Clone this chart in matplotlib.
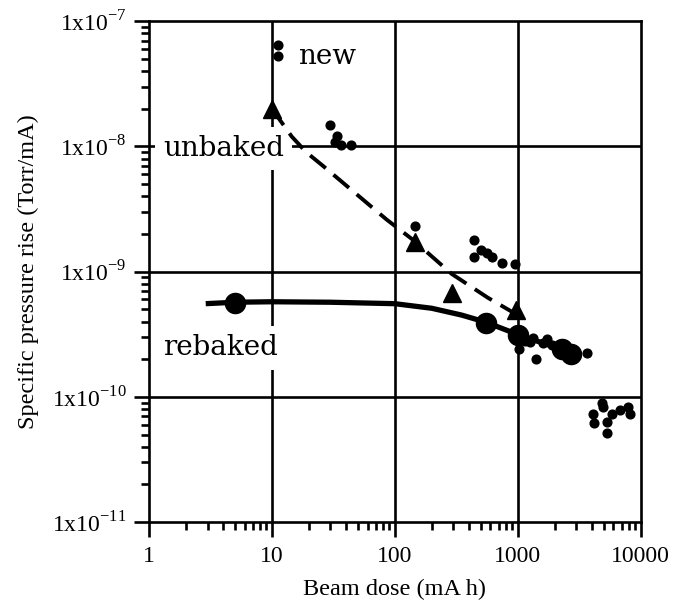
import matplotlib
matplotlib.use("Agg")
import matplotlib.pyplot as plt
from matplotlib.ticker import FixedLocator, FixedFormatter, LogLocator, NullFormatter

# ---- data ----
x_ticks = [1, 10, 100, 1000, 10000]
x_tick_labels = ["1", "10", "100", "1000", "10000"]
y_ticks = [1e-11, 1e-10, 1e-9, 1e-8, 1e-7]
y_tick_labels = [r"1x10$^{\mathregular{-11}}$", r"1x10$^{\mathregular{-10}}$",
                 r"1x10$^{\mathregular{-9}}$", r"1x10$^{\mathregular{-8}}$",
                 r"1x10$^{\mathregular{-7}}$"]

# small dots
dots_x = [11.2, 11.2, 29.6, 33.6, 32.5, 36.8, 44.4, 147,
          440, 440, 500, 560, 620, 740, 950,
          1030, 1150, 1250, 1320, 1400, 1600, 1720, 1900, 2190, 2400, 2650, 3000, 3640,
          4090, 4200, 4820, 4900, 5300, 5300, 5800, 6800, 7900, 8200]
dots_y = [6.4e-8, 5.3e-8, 1.47e-8, 1.22e-8, 1.08e-8, 1.02e-8, 1.02e-8, 2.33e-9,
          1.8e-9, 1.31e-9, 1.5e-9, 1.4e-9, 1.3e-9, 1.17e-9, 1.16e-9,
          2.4e-10, 2.8e-10, 2.75e-10, 2.96e-10, 2.0e-10, 2.7e-10, 2.9e-10, 2.6e-10, 2.58e-10, 2.4e-10, 2.33e-10, 2.2e-10, 2.26e-10,
          7.3e-11, 6.2e-11, 8.9e-11, 8.3e-11, 6.3e-11, 5.15e-11, 7.3e-11, 7.8e-11, 8.3e-11, 7.3e-11]

# unbaked (triangles) and dashed trend
tri_x = [10, 145, 290, 960]
tri_y = [2.0e-8, 1.71e-9, 6.8e-10, 4.9e-10]
dash_x = [10, 14.5, 19, 26, 40, 86, 140, 290, 570, 960]
dash_y = [2.0e-8, 1.2e-8, 9.0e-9, 7.0e-9, 4.9e-9, 2.6e-9, 1.8e-9, 9.6e-10, 6.2e-10, 4.6e-10]

# rebaked (big circles) and solid trend
reb_x = [5, 550, 1000, 2300, 2700]
reb_y = [5.6e-10, 3.9e-10, 3.1e-10, 2.4e-10, 2.2e-10]
solid_x = [2.9, 5, 10, 30, 100, 200, 350, 550, 1000, 1500, 2000, 2700]
solid_y = [5.55e-10, 5.7e-10, 5.75e-10, 5.7e-10, 5.55e-10, 5.1e-10, 4.5e-10, 3.95e-10, 3.15e-10, 2.75e-10, 2.5e-10, 2.2e-10]

labels_text = ["new", "unbaked", "rebaked"]
labels_x = [16.3, 1.3, 1.3]
labels_y = [5.2e-8, 9.6e-9, 2.47e-10]

# ---- plot ----
plt.rcParams["mathtext.fontset"] = "custom"
plt.rcParams["mathtext.rm"] = "Liberation Serif"
plt.rcParams["font.family"] = ["Liberation Serif", "DejaVu Serif"]

fig = plt.figure(figsize=(6.86, 6.03), dpi=100)
ax = fig.add_axes([0.217, 0.134, 0.717, 0.831])
ax.set_xscale("log")
ax.set_yscale("log")
ax.set_xlim(1, 10000)
ax.set_ylim(1e-11, 1e-7)

for v in x_ticks[1:-1]:
    ax.axvline(v, color="black", lw=1.9, zorder=1)
for v in y_ticks[1:-1]:
    ax.axhline(v, color="black", lw=1.9, zorder=1)

ax.plot(dash_x, dash_y, color="black", lw=2.8, ls=(0, (5.2, 2.6)), zorder=3)
ax.plot(solid_x, solid_y, color="black", lw=3.8, zorder=3,
        solid_capstyle="butt")
ax.plot(tri_x, tri_y, ls="none", marker="^", ms=13.5, color="black", zorder=4)
ax.plot(reb_x, reb_y, ls="none", marker="o", ms=14.5, color="black", zorder=4)
ax.plot(dots_x, dots_y, ls="none", marker="o", ms=6.3, color="black", zorder=4)

for t, xx, yy in zip(labels_text, labels_x, labels_y):
    ax.text(xx, yy, t, fontsize=20, family="DejaVu Serif", ha="left", va="center",
            zorder=2,
            bbox=dict(boxstyle="square,pad=0.3", fc="white", ec="none"))

ax.xaxis.set_major_locator(FixedLocator(x_ticks))
ax.xaxis.set_major_formatter(FixedFormatter(x_tick_labels))
ax.yaxis.set_major_locator(FixedLocator(y_ticks))
ax.yaxis.set_major_formatter(FixedFormatter(y_tick_labels))
ax.xaxis.set_minor_locator(LogLocator(base=10, subs=range(2, 10), numticks=20))
ax.yaxis.set_minor_locator(LogLocator(base=10, subs=range(2, 10), numticks=20))
ax.xaxis.set_minor_formatter(NullFormatter())
ax.yaxis.set_minor_formatter(NullFormatter())

ax.tick_params(which="major", direction="out", length=11, width=1.9,
               labelsize=17)
ax.tick_params(which="minor", direction="out", length=6, width=1.9)
ax.tick_params(axis="x", which="major", pad=6)
ax.tick_params(axis="y", which="major", pad=5)
for s in ax.spines.values():
    s.set_linewidth(1.9)

ax.set_xlabel("Beam dose (mA h)", fontsize=17.5, labelpad=9)
ax.set_ylabel("Specific pressure rise (Torr/mA)", fontsize=17.5, labelpad=9)

fig.savefig("out.png", dpi=100)
